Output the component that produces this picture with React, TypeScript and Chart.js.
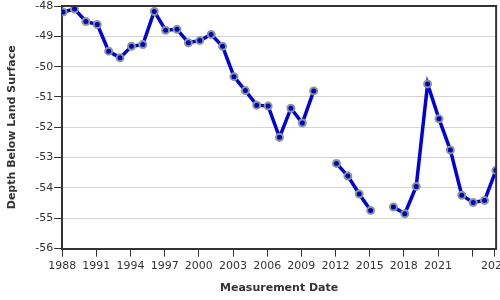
import React, { useEffect, useRef } from "react";
import { Chart, registerables } from "chart.js";

Chart.register(...registerables);

const years: number[] = [
  1988, 1989, 1990, 1991, 1992, 1993, 1994, 1995, 1996, 1997, 1998, 1999,
  2000, 2001, 2002, 2003, 2004, 2005, 2006, 2007, 2008, 2009, 2010, 2011,
  2012, 2013, 2014, 2015, 2016, 2017, 2018, 2019, 2020, 2021, 2022, 2023,
  2024, 2025, 2026,
];
const depths: (number | null)[] = [
  -48.2, -48.1, -48.51, -48.61, -49.49, -49.71, -49.33, -49.27, -48.18, -48.8,
  -48.77, -49.21, -49.14, -48.94, -49.33, -50.33, -50.79, -51.27, -51.3, -52.33,
  -51.37, -51.86, -50.8, null, -53.19, -53.61, -54.2, -54.74, null, -54.63,
  -54.85, -53.95, -50.57, -51.72, -52.75, -54.24, -54.48, -54.41, -53.42,
];
const measureMonth = 2; // measurements taken around February
const xTickValues: number[] = [
  1988, 1991, 1994, 1997, 2000, 2003, 2006, 2009, 2012, 2015, 2018, 2021, 2024, 2026,
];
const xTickLabels: string[] = [
  "1988", "1991", "1994", "1997", "2000", "2003", "2006", "2009", "2012", "2015",
  "2018", "2021", "", "2026",
];

const FONT = "'DejaVu Sans', Verdana, sans-serif";

const frame = {
  id: "frame",
  afterDraw(chart: any) {
    const { ctx, chartArea } = chart;
    ctx.save();
    ctx.strokeStyle = "#333";
    ctx.lineWidth = 2;
    ctx.beginPath();
    ctx.moveTo(chartArea.left, chartArea.top);
    ctx.lineTo(chartArea.right, chartArea.top);
    ctx.lineTo(chartArea.right, chartArea.bottom);
    ctx.stroke();
    ctx.restore();
  },
};

export default function App() {
  const ref = useRef<HTMLCanvasElement>(null);
  useEffect(() => {
    document.body.style.margin = "0";
    const data = years.map((y, i) => ({ x: y + (measureMonth - 1) / 12, y: depths[i] }));
    const chart = new Chart(ref.current!, {
      type: "line",
      data: {
        datasets: [
          {
            data: data as any,
            borderColor: "#0000dd",
            borderWidth: 3.5,
            pointBackgroundColor: "#0000cc",
            pointBorderColor: "#8a9a8a",
            pointBorderWidth: 2,
            pointRadius: 3.5,
            spanGaps: false,
            tension: 0,
          },
        ],
      },
      options: {
        responsive: false,
        animation: false,
        layout: { padding: { left: 6, top: 0, right: 0, bottom: 0 } },
        plugins: { legend: { display: false }, tooltip: { enabled: false } },
        scales: {
          x: {
            type: "linear",
            min: 1988,
            max: 2026.1,
            afterBuildTicks: (axis: any) => {
              axis.ticks = xTickValues.map((v) => ({ value: v }));
            },
            ticks: {
              autoSkip: false,
              maxRotation: 0,
              color: "#333",
              font: { family: FONT, size: 11 },
              padding: 3,
              callback: (v: any) => {
                const i = xTickValues.indexOf(Number(v));
                return i >= 0 ? xTickLabels[i] : "";
              },
            },
            grid: { drawOnChartArea: false, tickColor: "#333", tickLength: 8 },
            border: { color: "#333", width: 2 },
            title: {
              display: true,
              text: "Measurement Date",
              color: "#333",
              font: { family: FONT, size: 11, weight: "bold" },
              padding: { top: 6, bottom: 5 },
            },
          },
          y: {
            min: -56,
            max: -48,
            ticks: {
              stepSize: 1,
              color: "#333",
              font: { family: FONT, size: 11, lineHeight: 0.8 },
              padding: 1,
            },
            grid: { color: "#d4d4d4", tickColor: "#333", tickLength: 8 },
            border: { color: "#333", width: 2 },
            title: {
              display: true,
              text: "Depth Below Land Surface",
              color: "#333",
              font: { family: FONT, size: 11, weight: "bold" },
              padding: { top: 0, bottom: 15 },
            },
          },
        },
      },
      plugins: [frame],
    });
    return () => chart.destroy();
  }, []);
  return (
    <div style={{ width: 500, height: 300, overflow: "hidden" }}>
      <canvas ref={ref} width={512} height={300} style={{ display: "block" }} />
    </div>
  );
}
